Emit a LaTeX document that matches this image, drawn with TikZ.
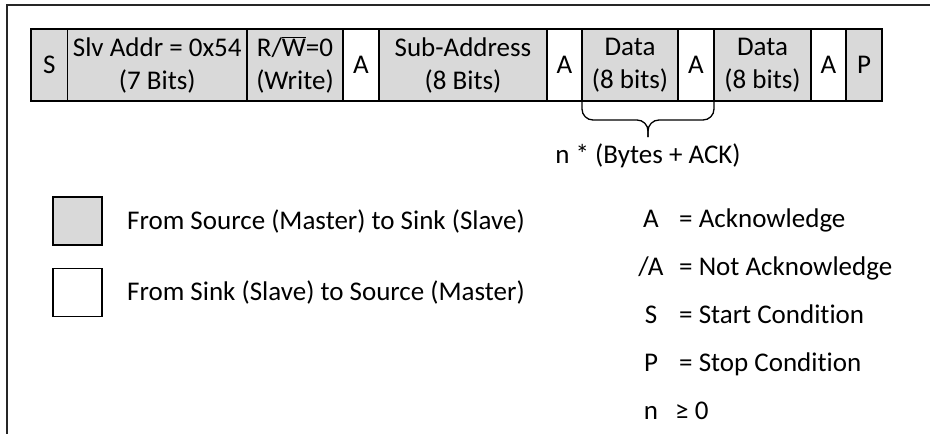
\documentclass[tikz,border=0pt]{standalone}
\usepackage{fontspec}
\setmainfont{Carlito}[Ligatures=NoCommon]
\usetikzlibrary{positioning}
\definecolor{cellgray}{HTML}{D9D9D9}

\begin{document}
\begin{tikzpicture}[x=1pt, y=-1pt,
% node style
cell/.style={rectangle, draw=black, line width=1.6pt, inner sep=0pt, outer sep=0pt,
  minimum height=72pt, align=center, font=\fontsize{27}{33}\selectfont},
mst/.style={cell, fill=cellgray},
slv/.style={cell, fill=white},
key/.style={rectangle, draw=black, line width=1.6pt, inner sep=0pt, outer sep=0pt,
  minimum width=49pt, minimum height=48pt},
txt/.style={inner sep=0pt, font=\fontsize{27}{33}\selectfont}
]

% frame
\useasboundingbox (0,0) rectangle (930,434);
\draw[line width=2.4pt, black!85] (7,434) -- (7,5) -- (930,5);

% nodes
\node[mst, minimum width=36.5pt] (st) at (49.25,65) {S};
\node[mst, minimum width=179.5pt] (addr) [right=0pt of st] {Slv Addr = 0x54\\(7 Bits)};
\node[mst, minimum width=96pt] (rw) [right=0pt of addr] {R/$\overline{\hbox{W}}$=0\\(Write)};
\node[slv, minimum width=36pt] (ack1) [right=0pt of rw] {A};
\node[mst, minimum width=168pt] (sub) [right=0pt of ack1] {Sub-Address\\(8 Bits)};
\node[slv, minimum width=35pt] (ack2) [right=0pt of sub] {A};
\node[mst, minimum width=96pt] (data1) [right=0pt of ack2] {Data\\(8 bits)};
\node[slv, minimum width=36pt] (ack3) [right=0pt of data1] {A};
\node[mst, minimum width=97pt] (data2) [right=0pt of ack3] {Data\\(8 bits)};
\node[slv, minimum width=35pt] (ack4) [right=0pt of data2] {A};
\node[mst, minimum width=36pt] (sp) [right=0pt of ack4] {P};

% brace under the repeated bytes
\path (data1.south west) -- (ack3.south east) coordinate[pos=.5] (brmid);
\coordinate (brtip) at ([yshift=-36pt]brmid);
\draw[line width=1.3pt, rounded corners=11pt] (data1.south west) |- ([yshift=17pt]brtip) -- (brtip);
\draw[line width=1.3pt, rounded corners=11pt] (ack3.south east) |- ([yshift=17pt]brtip) -- (brtip);
\node[txt, anchor=base] (rep) at ([yshift=-26pt]brtip) {n * (Bytes + ACK)};

% legend
\node[key, fill=cellgray] (srckey) at (77.5,221) {};
\node[key, fill=white] (snkkey) at (77.5,292.5) {};
\node[txt, right=25pt of srckey] (srclbl) {From Source (Master) to Sink (Slave)};
\node[txt, right=25pt of snkkey] (snklbl) {From Sink (Slave) to Source (Master)};

% abbreviations
\node[txt, anchor=base] (abA) at (651,227) {A};
\node[txt, anchor=base] (abNA) at (651,275) {/A};
\node[txt, anchor=base] (abS) at (651,323) {S};
\node[txt, anchor=base] (abP) at (651,371) {P};
\node[txt, anchor=base] (abn) at (651,419) {n};
\node[txt, anchor=base west] (mnA) at (679,227) {= Acknowledge};
\node[txt, anchor=base west] (mnNA) at (679,275) {= Not Acknowledge};
\node[txt, anchor=base west] (mnS) at (679,323) {= Start Condition};
\node[txt, anchor=base west] (mnP) at (679,371) {= Stop Condition};
\node[txt, anchor=base west] (mnn) at (675,419) {≥ 0};

\end{tikzpicture}
\end{document}
